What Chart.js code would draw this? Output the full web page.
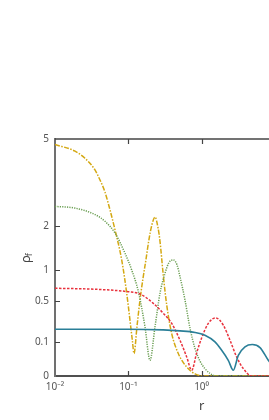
<!DOCTYPE html>
<html>
<head>
<meta charset="utf-8">
<script src="https://cdn.jsdelivr.net/npm/chart.js@4/dist/chart.umd.min.js"></script>
<style>
html, body { margin: 0; padding: 0; background: #fff; overflow: hidden; }
</style>
</head>
<body>
<canvas id="grafica" width="269" height="420"></canvas>
<script>
// Valores: r (eje log) y rho_f (eje en raíz cuadrada)
var xTicks = [0.01, 0.1, 1];
var xTickLabels = ['10\u207B\u00B2', '10\u207B\u00B9', '10\u2070'];
var yTicks = [0, 0.1, 0.5, 1, 2, 5];
var yTickLabels = ['0', '0.1', '0.5', '1', '2', '5'];

var tealR   = [0.01, 0.1, 0.3, 0.507, 0.813, 1.11, 1.523, 1.88, 2.313, 2.707, 3.168, 3.908, 4.917, 6.262, 8.128, 9.0];
var tealRho = [0.195, 0.195, 0.189, 0.181, 0.169, 0.148, 0.104, 0.059, 0.022, 0.003, 0.038, 0.0756, 0.088, 0.072, 0.022, 0.012];

var redR   = [0.01, 0.0351, 0.1, 0.1445, 0.2193, 0.3002, 0.391, 0.5074, 0.626, 0.733, 0.857, 1.003, 1.234, 1.557, 1.977, 2.44, 3.01, 3.707, 4.825, 9.0];
var redRho = [0.685, 0.67, 0.632, 0.60, 0.47, 0.35, 0.246, 0.114, 0.0324, 0.003, 0.048, 0.13, 0.246, 0.301, 0.23, 0.114, 0.032, 0.0049, 0.0, 0.0];

var greenR   = [0.01, 0.01875, 0.0351, 0.0481, 0.0659, 0.0901, 0.1113, 0.1368, 0.169, 0.1977, 0.2313, 0.2707, 0.3167, 0.359, 0.411, 0.4617, 0.5074, 0.5935, 0.695, 0.813, 0.951, 1.11, 1.302, 1.573, 9.0];
var greenRho = [2.56, 2.51, 2.32, 2.13, 1.82, 1.343, 1.0, 0.64, 0.215, 0.022, 0.215, 0.61, 0.94, 1.145, 1.2, 1.10, 0.878, 0.514, 0.2025, 0.0676, 0.0196, 0.0049, 0.0006, 0.0, 0.0];

var goldR   = [0.01, 0.01875, 0.02566, 0.0351, 0.0411, 0.0481, 0.0562, 0.0659, 0.0813, 0.0951, 0.1054, 0.1135, 0.1197, 0.1315, 0.1445, 0.1586, 0.1743, 0.1916, 0.2105, 0.2313, 0.2542, 0.2707, 0.3002, 0.3342, 0.391, 0.481, 0.626, 0.813, 1.11, 9.0];
var goldRho = [4.77, 4.50, 4.22, 3.78, 3.42, 3.01, 2.46, 1.90, 1.20, 0.61, 0.278, 0.114, 0.045, 0.221, 0.518, 0.846, 1.21, 1.664, 2.045, 2.25, 1.96, 1.613, 0.9025, 0.449, 0.16, 0.045, 0.0072, 0.0004, 0.0, 0.0];

// Convierte las listas en puntos; el eje y es raíz cuadrada de rho
function puntos(rs, rhos) {
    var res = [];
    for (var i = 0; i < rs.length; i++) {
        res.push({ x: rs[i], y: Math.sqrt(rhos[i]) });
    }
    return res;
}

function serie(rs, rhos, color, dash, ancho) {
    return {
        data: puntos(rs, rhos),
        borderColor: color,
        borderWidth: ancho,
        borderDash: dash,
        pointRadius: 0,
        fill: false,
        cubicInterpolationMode: 'monotone'
    };
}

// Marcas hacia dentro, borde superior y títulos de ejes
var marcas = {
    id: 'marcas',
    afterDraw: function(chart) {
        var ctx = chart.ctx;
        var a = chart.chartArea;
        var xs = chart.scales.x;
        var ys = chart.scales.y;
        ctx.save();
        ctx.strokeStyle = '#444';
        ctx.lineWidth = 1.3;
        ctx.beginPath();
        ctx.moveTo(a.left, a.top);
        ctx.lineTo(a.right, a.top);
        ctx.stroke();

        ctx.lineWidth = 1.2;
        ctx.beginPath();
        for (var i = 1; i < xTicks.length; i++) {
            var px = Math.round(xs.getPixelForValue(xTicks[i])) + 0.5;
            ctx.moveTo(px, a.bottom);
            ctx.lineTo(px, a.bottom - 5);
            ctx.moveTo(px, a.top);
            ctx.lineTo(px, a.top + 5);
        }
        for (var j = 1; j < yTicks.length - 1; j++) {
            var py = Math.round(ys.getPixelForValue(Math.sqrt(yTicks[j]))) + 0.5;
            ctx.moveTo(a.left, py);
            ctx.lineTo(a.left + 5, py);
        }
        ctx.stroke();

        // título eje x: "r"
        ctx.fillStyle = '#444';
        ctx.font = '13px "Noto Sans"';
        ctx.textAlign = 'center';
        ctx.textBaseline = 'middle';
        ctx.fillText('r', xs.getPixelForValue(1), 406);

        // título eje y: rho con subíndice f
        ctx.translate(26, 258);
        ctx.rotate(-Math.PI / 2);
        ctx.textAlign = 'left';
        ctx.font = '13px "Noto Sans"';
        ctx.fillText('\u03C1', -5, 0);
        ctx.font = '8px "Noto Sans"';
        ctx.fillText('f', 2, 4);
        ctx.restore();
    }
};

var ctx = document.getElementById('grafica').getContext('2d');
var grafica = new Chart(ctx, {
    type: 'line',
    data: {
        datasets: [
            serie(tealR, tealRho, '#2a7f98', [], 1.6),
            serie(redR, redRho, '#e8313c', [2.5, 1.5], 1.5),
            serie(greenR, greenRho, '#6a9e52', [1.2, 1.2], 1.5),
            serie(goldR, goldRho, '#d4a812', [5, 1.5, 1.5, 1.5], 1.5)
        ]
    },
    options: {
        responsive: false,
        animation: false,
        devicePixelRatio: 1,
        layout: { padding: { top: 139, right: 0, bottom: 0, left: 0 } },
        plugins: {
            legend: { display: false },
            tooltip: { enabled: false }
        },
        scales: {
            x: {
                type: 'logarithmic',
                min: 0.01,
                max: 8.31,
                afterBuildTicks: function(scale) {
                    scale.ticks = xTicks.map(function(v) { return { value: v }; });
                },
                afterFit: function(scale) { scale.height = 44; },
                grid: { display: false, drawTicks: false },
                border: { display: true, color: '#505050', width: 2 },
                ticks: {
                    autoSkip: false,
                    maxRotation: 0,
                    padding: 5,
                    color: '#555',
                    font: { family: 'Noto Sans', size: 10 },
                    callback: function(value, index) { return xTickLabels[index]; }
                }
            },
            y: {
                type: 'linear',
                min: 0,
                max: Math.sqrt(5),
                afterBuildTicks: function(scale) {
                    scale.ticks = yTicks.map(function(v) { return { value: Math.sqrt(v) }; });
                },
                afterFit: function(scale) { scale.width = 55; },
                grid: { display: false, drawTicks: false },
                border: { display: true, color: '#707070', width: 2 },
                ticks: {
                    autoSkip: false,
                    padding: 6,
                    color: '#555',
                    font: { family: 'Noto Sans', size: 10 },
                    callback: function(value, index) { return yTickLabels[index]; }
                }
            }
        }
    },
    plugins: [marcas]
});
</script>
</body>
</html>
